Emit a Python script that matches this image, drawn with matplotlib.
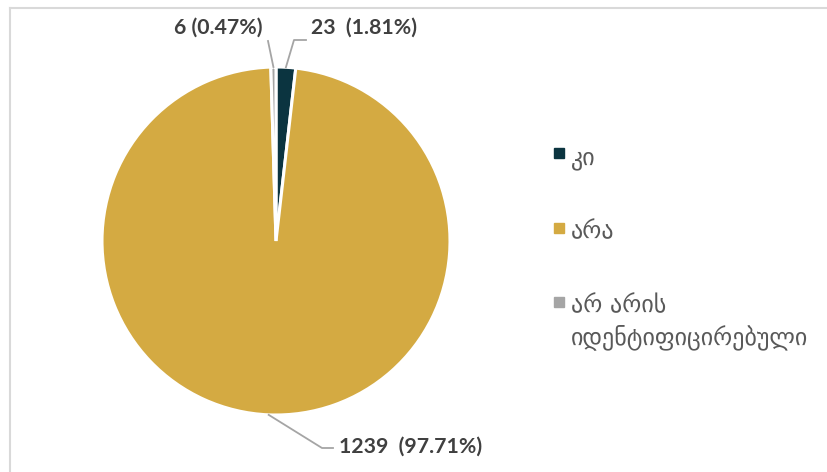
import numpy as np
import matplotlib
matplotlib.use("Agg")
from matplotlib import pyplot as plt
from matplotlib.lines import Line2D

# data
labels = ["კი", "არა", "არ არის\nიდენტიფიცირებული"]
counts = [23, 1239, 6]
pcts = ["1.81%", "97.71%", "0.47%"]
colors = ["#0B3440", "#D4AA42", "#A5A5A5"]

W, H = 827, 472
fig = plt.figure(figsize=(W / 100, H / 100), dpi=100)

# pie centre (276, 241) px, radius 174 px
cx, cy, r = 276, 241, 174
ax = fig.add_axes([(cx - r) / W, (H - cy - r) / H, 2 * r / W, 2 * r / H])
wedges, _ = ax.pie(counts, colors=colors, startangle=90, counterclock=False,
                   radius=1, wedgeprops=dict(edgecolor="white", linewidth=2.2))
ax.set_xlim(-1, 1)
ax.set_ylim(-1, 1)
ax.set_aspect("equal")
ax.axis("off")

lab_font = dict(family="Lato", weight="bold", size=15.3, color="#404040")
line_kw = dict(color="#A5A5A5", lw=1.3, clip_on=False)

def px(x, y):
    # pixel offsets -> data units of the pie axes
    return (x - cx) / r, (cy - y) / r

for w, n, p in zip(wedges, counts, pcts):
    mid = np.deg2rad((w.theta1 + w.theta2) / 2)
    x0, y0 = np.cos(mid), np.sin(mid)
    if n == 23:
        pts = [(x0, y0), px(294, 40), px(306, 40)]
        tx, ty, ha = px(311, 28) + ("left",)
        txt = f"{n}  ({p})"
    elif n == 6:
        pts = [(x0, y0), px(268, 41)]
        tx, ty, ha = px(263, 28) + ("right",)
        txt = f"{n} ({p})"
    else:
        pts = [(x0, y0), px(322, 448), px(333, 448)]
        tx, ty, ha = px(339, 447) + ("left",)
        txt = f"{n}  ({p})"
    xs, ys = zip(*pts)
    ax.add_line(Line2D(xs, ys, **line_kw))
    ax.text(tx, ty, txt, ha=ha, va="center", **lab_font)

handles = [Line2D([], [], marker="s", ls="none", color=c, markersize=6.5) for c in colors]
leg = fig.legend(handles, labels, loc="upper left", bbox_to_anchor=(541 / W, 1 - 133 / H),
                 frameon=False, borderpad=0, handlelength=0.5, handletextpad=0.25,
                 labelspacing=2.07, prop=dict(family="DejaVu Sans", size=17.3))
for t in leg.get_texts():
    t.set_color("#595959")
    t.set_linespacing(1.38)
# keep the marker beside the first line of a two-line label
for col in leg._legend_handle_box.get_children():
    for row in col.get_children():
        row.align = "top"

# light frame lines (top and left)
fig.add_artist(Line2D([9.5 / W, 1], [1 - 7.5 / H, 1 - 7.5 / H], color="#D9D9D9", lw=1.5,
                      transform=fig.transFigure))
fig.add_artist(Line2D([9.5 / W, 9.5 / W], [0, 1 - 7.5 / H], color="#D9D9D9", lw=1.5,
                      transform=fig.transFigure))

fig.savefig("out.png", dpi=100)
